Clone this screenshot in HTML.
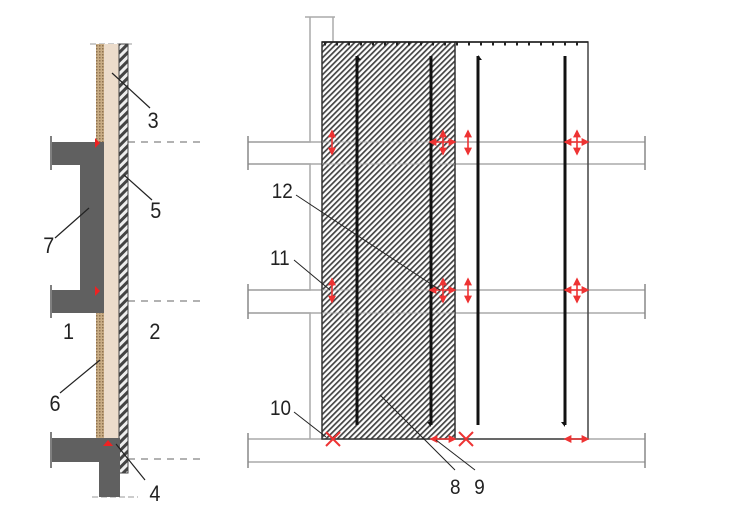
<!DOCTYPE html>
<html><head><meta charset="utf-8"><style>body{margin:0;background:#fff}svg{display:block}</style></head><body>
<svg width="743" height="522" viewBox="0 0 743 522" xmlns="http://www.w3.org/2000/svg" font-family="Liberation Sans, sans-serif">
<defs>
<pattern id="h" width="4" height="4" patternUnits="userSpaceOnUse" patternTransform="rotate(45)">
<rect width="4" height="4" fill="#fff"/><rect x="0" y="0" width="1.7" height="4" fill="#444"/></pattern>
<pattern id="h2" width="6" height="6" patternUnits="userSpaceOnUse" patternTransform="rotate(45)">
<rect width="6" height="6" fill="#eee"/><rect x="0" y="0" width="3" height="6" fill="#444"/></pattern>
<pattern id="b" width="3" height="3" patternUnits="userSpaceOnUse">
<rect width="3" height="3" fill="#c9ad85"/><rect width="1.5" height="1.5" fill="#8f7250"/></pattern>
<marker id="ar" viewBox="0 0 10 10" refX="8" refY="5" markerWidth="5" markerHeight="5" orient="auto-start-reverse"><path d="M0,0L10,5L0,10z" fill="#e33"/></marker>
</defs>
<!-- LEFT DIAGRAM -->
<g stroke="#999" stroke-dasharray="7,6" stroke-width="1.5">
<line x1="128" y1="142" x2="200" y2="142"/><line x1="128" y1="301" x2="200" y2="301"/><line x1="128" y1="459" x2="200" y2="459"/>
</g>
<line x1="90" y1="44" x2="135" y2="44" stroke="#999" stroke-dasharray="6,3"/>
<line x1="92" y1="497" x2="138" y2="497" stroke="#999" stroke-dasharray="6,3"/>
<rect x="96" y="44" width="8" height="394" fill="url(#b)"/>
<rect x="104" y="44" width="15" height="394" fill="#ecdccb"/>
<rect x="119" y="44" width="9" height="429" fill="url(#h2)" stroke="#444" stroke-width="1"/>
<g fill="#606060">
<rect x="52" y="142" width="52" height="23"/><rect x="80" y="165" width="24" height="125"/>
<rect x="52" y="290" width="52" height="23"/>
<rect x="52" y="438" width="68" height="24"/><rect x="99" y="462" width="21" height="35"/>
</g>
<g stroke="#555" stroke-width="1.5"><line x1="51" y1="136" x2="51" y2="170"/><line x1="51" y1="285" x2="51" y2="318"/><line x1="51" y1="432" x2="51" y2="468"/></g>
<g fill="#e22"><path d="M95,138l5,5l-5,5z"/><path d="M95,286l5,5l-5,5z"/><path d="M108,440l5,6l-10,0z"/></g>
<g stroke="#222" stroke-width="1.2" fill="none">
<path d="M112,73L150,108"/><path d="M124,175L152,200"/><path d="M89,208L55,238"/>
<path d="M100,360L60,393"/><path d="M116,444L145,480"/>
</g>
<g fill="#222" font-size="22" transform="scale(0.9,1)">
<text x="164" y="128">3</text><text x="167" y="218">5</text><text x="48" y="253">7</text>
<text x="70" y="339">1</text><text x="166" y="339">2</text><text x="55" y="411">6</text><text x="166" y="501">4</text>
</g>
<!-- RIGHT DIAGRAM -->
<g stroke="#aaa" stroke-width="1.5" fill="none">
<path d="M248,142H310V17"/><path d="M305,17H335"/><path d="M333,17V42"/>
<path d="M248,164H310V290H248"/><path d="M248,313H310V439"/>
<line x1="248" y1="142" x2="645" y2="142"/><line x1="248" y1="164" x2="645" y2="164"/>
<line x1="248" y1="290" x2="645" y2="290"/><line x1="248" y1="313" x2="645" y2="313"/>
<line x1="248" y1="439" x2="645" y2="439"/><line x1="248" y1="462" x2="645" y2="462"/>
<g stroke="#888"><path d="M248,136v34M645,136v34M248,284v35M645,284v35M248,433v35M645,433v35"/></g>
</g>
<rect x="322" y="42" width="133" height="397" fill="url(#h)" stroke="#333" stroke-width="1.5"/>
<g stroke="#aaa" stroke-width="1" opacity="0.8"><line x1="322" y1="142" x2="455" y2="142"/><line x1="322" y1="164" x2="455" y2="164"/><line x1="322" y1="290" x2="455" y2="290"/><line x1="322" y1="313" x2="455" y2="313"/></g>
<path d="M455,42H588V439H455" fill="none" stroke="#444" stroke-width="1.5"/>
<line x1="322" y1="42" x2="588" y2="42" stroke="#222" stroke-width="1.5"/>
<line x1="324" y1="44" x2="588" y2="44" stroke="#222" stroke-width="3" stroke-dasharray="2,10"/>
<g stroke="#111" stroke-width="3">
<line x1="357" y1="56" x2="357" y2="425"/><line x1="431" y1="56" x2="431" y2="425"/>
<line x1="478" y1="56" x2="478" y2="425"/><line x1="565" y1="56" x2="565" y2="425"/>
</g>
<g fill="#111"><path d="M357,55l4,5h-4z"/><path d="M431,427l-4,-5h4z"/><path d="M478,55l4,5h-4z"/><path d="M565,427l-4,-5h4z"/></g>
<g stroke="#e33" stroke-width="1.6" marker-start="url(#ar)" marker-end="url(#ar)">
<line x1="332" y1="131" x2="332" y2="154"/><line x1="443" y1="131" x2="443" y2="154"/><line x1="430" y1="142" x2="455" y2="142"/>
<line x1="468" y1="131" x2="468" y2="154"/><line x1="577" y1="131" x2="577" y2="154"/><line x1="565" y1="142" x2="588" y2="142"/>
<line x1="332" y1="279" x2="332" y2="302"/><line x1="443" y1="279" x2="443" y2="302"/><line x1="430" y1="290" x2="455" y2="290"/>
<line x1="468" y1="279" x2="468" y2="302"/><line x1="577" y1="279" x2="577" y2="302"/><line x1="565" y1="290" x2="588" y2="290"/>
<line x1="431" y1="439" x2="455" y2="439"/><line x1="565" y1="439" x2="588" y2="439"/>
</g>
<g stroke="#e33" stroke-width="2"><path d="M326,432l14,14M340,432l-14,14"/><path d="M459,432l14,14M473,432l-14,14"/></g>
<g stroke="#222" stroke-width="1" fill="none">
<path d="M296,195L440,290"/><path d="M294,260L330,290"/><path d="M294,412L326,437"/>
<path d="M380,395L455,470"/><path d="M436,440L475,470"/>
</g>
<g fill="#222" font-size="21" transform="scale(0.9,1)">
<text x="302" y="198">12</text><text x="300" y="265">11</text><text x="300" y="415">10</text>
<text x="500" y="494">8</text><text x="527" y="494">9</text>
</g>
</svg>
</body></html>
